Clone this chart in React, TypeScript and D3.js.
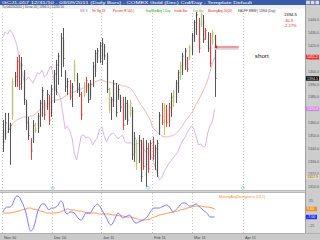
import React from "react";
import * as d3 from "d3";

// ---- data ----
const barHigh = [1362.2,1367.7,1367.7,1359.9,1394.9,1399.6,1411.2,1412.8,1411.2,1401.1,
 1377.8,1364.6,1348.2,1362.2,1359.9,1367.7,1377.8,1387.9,1377.8,1385.6,
 1381.7,1389.5,1401.1,1408.9,1414.4,1429.9,1433.8,1401.1,1394.9,1393.3,
 1391.0,1408.9,1398.8,1391.0,1384.0,1391.8,1395.7,1391.0,1393.3,1407.4,
 1416.7,1418.2,1422.9,1426.0,1421.4,1414.4,1387.1,1380.1,1393.3,1391.0,
 1389.5,1381.7,1380.1,1380.1,1377.8,1377.8,1372.3,1352.9,1346.7,1350.5,
 1346.7,1348.2,1346.7,1344.3,1346.7,1349.0,1342.8,1346.7,1368.4,1375.4,
 1375.4,1373.9,1375.4,1383.2,1385.6,1393.3,1401.1,1407.4,1414.4,1418.2,
 1411.2,1420.6,1429.9,1440.0,1446.3,1441.6,1446.0,1443.9,1433.8,1430.7,
 1429.9,1432.3,1428.4];
const barLow = [1337.3,1346.7,1352.1,1327.2,1362.2,1387.9,1387.9,1385.6,1385.6,1373.9,
 1354.4,1346.7,1331.1,1344.3,1352.1,1352.1,1356.8,1364.6,1362.2,1370.0,
 1358.3,1364.6,1375.4,1381.7,1389.5,1395.7,1403.5,1384.0,1381.7,1377.8,
 1372.3,1391.8,1383.2,1380.1,1362.2,1380.1,1383.2,1375.4,1377.8,1387.9,
 1395.7,1406.6,1406.6,1405.0,1408.9,1383.2,1367.7,1362.2,1372.3,1364.6,
 1377.8,1368.4,1354.4,1362.2,1358.3,1364.6,1331.1,1329.5,1323.3,1328.7,
 1314.0,1323.3,1310.1,1321.0,1331.1,1331.1,1323.3,1317.9,1350.5,1358.3,
 1350.5,1356.8,1356.8,1364.6,1372.3,1375.4,1383.2,1393.3,1397.2,1401.1,
 1399.6,1408.9,1412.8,1422.9,1428.4,1414.4,1434.6,1422.1,1424.5,1415.1,
 1403.5,1420.6,1380.1];
const barOpen = [1355,1348,1360,1355,1365,1390,1395,1408,1390,1400,
 1376,1360,1346,1346,1356,1355,1365,1372,1376,1372,
 1380,1365,1385,1397,1404,1405,1425,1400,1388,1390,
 1380,1392,1397,1388,1382,1382,1385,1390,1380,1390,
 1400,1410,1410,1408,1420,1412,1385,1372,1376,1388,
 1380,1380,1376,1364,1374,1366,1370,1336,1344,1330,
 1344,1345,1326,1340,1332,1346,1336,1320,1352,1366,
 1360,1370,1360,1370,1376,1380,1386,1396,1400,1405,
 1410,1410,1415,1425,1432,1438,1436,1440,1426,1428,
 1420,1422,1428];
const barClose = [1345,1360,1355,1358,1392,1396,1408,1390,1405,1378,
 1360,1350,1338,1358,1354,1365,1375,1385,1366,1382,
 1362,1386,1398,1405,1412,1426,1410,1388,1392,1380,
 1388,1405,1386,1382,1366,1390,1393,1378,1390,1404,
 1414,1416,1420,1422,1412,1386,1370,1378,1390,1368,
 1386,1372,1358,1375,1362,1375,1335,1348,1328,1346,
 1318,1326,1340,1324,1344,1334,1340,1344,1366,1360,
 1372,1360,1372,1380,1384,1391,1399,1405,1412,1416,
 1402,1419,1428,1438,1444,1418,1444,1425,1432,1418,
 1406,1430,1394.5];
const barKind = ("kkkkokrrkk" + "kkrkokkkrk" + "rkkkkkkkkr" + "kokkrorkkk" + "kkkkkkokkk" +
 "kkrkkokkok" + "krkrkrkkkr" + "orrkokkokk" + "rokkkrokrk" + "rok").split("");

const compareLine = [1426.8,1430.7,1429.1,1432.3,1429.9,1426.0,1420.6,1410.5,1401.1,1393.3,
 1393.3,1395.7,1393.3,1391.0,1394.9,1398.8,1398.0,1401.1,1395.7,1397.2,
 1401.9,1404.2,1394.9,1384.8,1383.2,1379.3,1367.7,1355.2,1357.5,1353.7,
 1348.2,1336.5,1331.1,1340.4,1349.8,1350.5,1348.2,1349.0,1347.4,1342.8,
 1345.9,1348.2,1355.2,1356.8,1349.8,1345.1,1349.0,1351.3,1352.1,1349.8,
 1347.4,1349.0,1350.5,1345.1,1344.3,1344.3,1344.3,1342.8,1343.5,1344.3,
 1342.0,1339.6,1337.3,1336.5,1335.0,1332.6,1326.4,1321.0,1315.5,1317.1,
 1321.7,1324.9,1328.0,1330.3,1332.6,1335.0,1337.3,1342.0,1345.9,1348.2,
 1352.1,1355.2,1357.5,1355.2,1349.0,1342.8,1343.5,1341.2,1342.0,1352.1,
 1357.5,1360.7,1370.8];
const movingAvg = [1349.0,1350.5,1352.9,1356.0,1359.1,1360.7,1362.2,1363.0,1363.8,1364.6,
 1364.6,1364.6,1365.3,1365.3,1366.9,1368.4,1370.0,1370.8,1372.3,1373.9,
 1374.7,1376.2,1377.0,1377.8,1377.8,1378.6,1379.3,1380.9,1381.7,1383.2,
 1384.0,1384.0,1384.8,1385.6,1386.3,1387.1,1387.9,1388.7,1389.5,1390.2,
 1391.8,1392.6,1393.3,1393.3,1392.6,1391.8,1391.8,1391.0,1391.0,1390.2,
 1390.2,1389.5,1388.7,1388.7,1387.9,1387.1,1385.6,1383.2,1380.1,1377.0,
 1373.9,1371.6,1368.4,1365.3,1362.2,1356.8,1354.4,1352.9,1351.3,1349.8,
 1349.0,1349.0,1349.0,1349.8,1349.8,1351.3,1352.9,1355.2,1357.5,1360.7,
 1363.0,1365.3,1367.7,1370.8,1374.7,1377.8,1380.9,1384.8,1388.7,1393.3,
 1399.6,1405.8,1411.2];
const macdFast = [3,11,13,13,17,29,35,33,25,15,
 1,-21,-35,-31,-17,3,13,19,19,13,
 7,11,11,13,17,25,21,3,-1,3,
 3,1,-5,-11,-13,-7,1,1,1,9,
 15,19,15,7,-1,-9,-19,-23,-17,-7,
 1,-3,-9,-7,-5,-3,-9,-17,-19,-17,
 -15,-13,-9,-5,3,9,11,11,11,13,
 15,17,15,9,3,7,11,17,21,21,
 19,15,15,17,19,15,11,7,3,-1,
 -7,-7,-7];
const macdSlow = [1,1,1,1,2,3,4,5,7,8,
 9,11,11,9,8,7,5,4,3,1,
 1,1,1,1,2,3,5,7,9,8,
 7,7,6,5,5,3,2,1,1,1,
 1,0,-1,-1,-1,-1,-1,-2,-3,-3,
 -4,-5,-5,-6,-7,-7,-8,-9,-10,-12,
 -13,-13,-13,-12,-11,-8,-7,-5,-3,-2,
 -1,0,1,2,3,4,5,7,8,9,
 11,12,13,14,15,15,15,14,13,13,
 12,11,9];

const monthLabels = ["Nov 10", "Dec 10", "Jan 11", "Feb 11", "Mar 11", "Apr 11"];
const monthAt = [-0.4, 21.3, 42.6, 64.8, 82.2, 104.3];
const cycleMarks = [21.7, 63.0, 104.3];
const priceTicks = [1440,1430,1420,1410,1400,1390,1380,1370,1360,1350,1340,1330,1320,1310];
const indTicks = [25, -25];
const priceTags = [
  { v: 1411.2, bg: "#ff2a2a", fg: "#ffffff" },
  { v: 1394.5, bg: "#000000", fg: "#ffffff" },
  { v: 1370.8, bg: "#d77ee6", fg: "#ffffff" },
  { v: 1317.9, bg: "#e9dfb8", fg: "#555555" },
];
const indTags = [
  { v: 9, bg: "#ff8a1e", fg: "#ffffff", t: "9.00" },
  { v: -7, bg: "#1f2cff", fg: "#ffffff", t: "-7.00" },
];
const legendItems = [
  { t: "VIX 9", c: "#b040c0", x: 80 },
  { t: "Str Sig 18", c: "#e02020", x: 92 },
  { t: "Percent R 14(L)", c: "#e02020", x: 113 },
  { t: "ExpMovAvg 5 Day", c: "#20a020", x: 146 },
  { t: "Inside Bar", c: "#e02020", x: 174 },
  { t: "Key Bar", c: "#a0a020", x: 193 },
  { t: "MovingAvg 20(20)", c: "#e02020", x: 208 },
  { t: "KAUFF MBIM | 12864 (Day)", c: "#333333", x: 238 },
];
const arrowNote = { price: 1419.0, from: 102.5, to: 91.8 };
const shortNote = { price: 1410.5, at: 109.5, text: "short" };

const FONT = "Liberation Sans, Arial, sans-serif";

export default function App() {
  const x = d3.scaleLinear().domain([0, 92]).range([3, 214.6]);
  const y = d3.scaleLinear().domain([1310, 1440]).range([187, 20]);
  const yi = d3.scaleLinear().domain([-25, 25]).range([226, 201]);
  const idx = d3.range(barHigh.length);

  const lineMain = d3.line<number>().x((_, i) => x(i)).y((d) => y(d));
  const lineInd = d3.line<number>().x((_, i) => x(i)).y((d) => yi(d)).curve(d3.curveMonotoneX);
  const kindColor: Record<string, string> = { k: "#444444", r: "#e42a2a", o: "#bcc452" };

  return (
    <div style={{ position: "absolute", left: 0, top: 0 }}>
      <svg width={320} height={240} style={{ display: "block" }} fontFamily={FONT}>
        <rect x={0} y={0} width={320} height={240} fill="#ffffff" />
        {/* title bar */}
        <rect x={0} y={0} width={320} height={5} fill="#3a5ca8" />
        <text x={2} y={4} fontSize={3.8} fill="#ffffff" textLength={250} lengthAdjust="spacingAndGlyphs">GCJ1-057  12/31/10 - 03/09/2011 (Daily Bars) - COMEX Gold (Dec) Crd/Day - Template Default</text>
        {[0, 1, 2].map((k) => (
          <rect key={k} x={306 + k * 4.6} y={0.6} width={4} height={3.8} fill="#d8dce8" stroke="#7080a8" strokeWidth={0.4} />
        ))}
        <rect x={0} y={5} width={305} height={3.8} fill="#f0f0f0" />
        <text x={2} y={8} fontSize={3.2} fill="#333" textLength={62} lengthAdjust="spacingAndGlyphs">Tu 04/25/2011 | 10:xx:13 | 1394.5 | 12/31/10</text>
        {legendItems.map((l) => (
          <text key={l.t} x={l.x} y={11.6} fontSize={3} fill={l.c}>{l.t}</text>
        ))}

        {/* gridlines */}
        {monthAt.map((m, i) => (
          <g key={i}>
            <line x1={Math.round(x(m)) + 0.5} x2={Math.round(x(m)) + 0.5} y1={13} y2={190} stroke="#c4c4c4" strokeDasharray="1,2" />
            <line x1={Math.round(x(m)) + 0.5} x2={Math.round(x(m)) + 0.5} y1={193} y2={233} stroke="#c4c4c4" strokeDasharray="1,2" />
          </g>
        ))}

        {/* comparison line */}
        <path d={lineMain(compareLine) || ""} fill="none" stroke="#cfa4de" strokeWidth={0.8} />
        {/* moving average */}
        <path d={lineMain(movingAvg) || ""} fill="none" stroke="#f2a4a4" strokeWidth={0.8} />

        {/* bars */}
        {idx.map((i) => {
          const cx = Math.round(x(i)) + 0.5;
          const top = y(Math.max(barOpen[i], barClose[i]));
          const bot = y(Math.min(barOpen[i], barClose[i]));
          return (
            <g key={i}>
              <rect x={cx - 0.8} y={top} width={1.8} height={Math.max(0.5, bot - top)} fill="#dadada" />
              <line x1={cx} x2={cx} y1={y(barHigh[i])} y2={y(barLow[i])} stroke={kindColor[barKind[i]]} strokeWidth={0.9} />
              <line x1={cx} x2={cx + 1.2} y1={y(barClose[i])} y2={y(barClose[i])} stroke={kindColor[barKind[i]]} strokeWidth={0.7} />
            </g>
          );
        })}

        {/* annotation arrow */}
        <rect x={x(arrowNote.to)} y={y(arrowNote.price) + 0.8} width={x(arrowNote.from) - x(arrowNote.to)} height={2} fill="#d6d6d6" />
        <line x1={x(arrowNote.from)} x2={x(arrowNote.to) + 2} y1={y(arrowNote.price)} y2={y(arrowNote.price)} stroke="#e02020" strokeWidth={0.9} />
        <path d={`M${x(arrowNote.to)},${y(arrowNote.price)} l3,-1.8 l0,3.6 z`} fill="#e02020" />
        <text x={x(shortNote.at)} y={y(shortNote.price)} fontSize={6.2} fill="#111111">{shortNote.text}</text>

        {/* cycle markers */}
        {cycleMarks.map((c, i) => (
          <path key={i} d={`M${x(c)},186 l1.6,1.8 l-1.6,1.8 l-1.6,-1.8 z`} fill="none" stroke="#40c0c8" strokeWidth={0.6} />
        ))}

        {/* top-right readout */}
        <text x={284} y={16} fontSize={4.2} fill="#000">1394.5</text>
        <text x={284} y={21.5} fontSize={4} fill="#e02020">-30.9</text>
        <text x={284} y={27} fontSize={4} fill="#e02020">-2.17%</text>

        {/* panel separator */}
        <rect x={0} y={190} width={305} height={3} fill="#d4d4d4" />
        <line x1={0} x2={305} y1={190.5} y2={190.5} stroke="#a8a8a8" strokeWidth={0.6} />
        <line x1={0} x2={305} y1={192.5} y2={192.5} stroke="#a8a8a8" strokeWidth={0.6} />

        {/* indicator */}
        <text x={219} y={197.5} fontSize={3.6} fill="#ff8a1e">MovingAvgDivergence (12,1)</text>
        <path d={lineInd(macdSlow) || ""} fill="none" stroke="#ff9a50" strokeWidth={1} />
        <path d={lineInd(macdFast) || ""} fill="none" stroke="#6a6cff" strokeWidth={0.9} />

        {/* right axis */}
        <rect x={305} y={5} width={15} height={235} fill="#cdcdcd" />
        <line x1={305.5} x2={305.5} y1={5} y2={240} stroke="#a0a0a0" />
        {priceTicks.map((t) => (
          <text key={t} x={308} y={y(t) + 1.3} fontSize={3.6} fill="#555">{t.toFixed(1)}</text>
        ))}
        {priceTags.map((p) => (
          <g key={p.v}>
            <rect x={306} y={y(p.v) - 2.2} width={13} height={4.4} fill={p.bg} />
            <text x={307} y={y(p.v) + 1.3} fontSize={3.6} fill={p.fg}>{p.v.toFixed(1)}</text>
          </g>
        ))}
        {indTicks.map((t) => (
          <text key={t} x={309} y={yi(t) + 1.3} fontSize={3.6} fill="#555">{t}</text>
        ))}
        {indTags.map((p) => (
          <g key={p.t}>
            <rect x={306} y={yi(p.v) - 2.2} width={11} height={4.4} fill={p.bg} />
            <text x={307} y={yi(p.v) + 1.3} fontSize={3.6} fill={p.fg}>{p.t}</text>
          </g>
        ))}

        {/* date axis */}
        <rect x={0} y={233} width={320} height={7} fill="#cacaca" />
        <line x1={0} x2={320} y1={233.5} y2={233.5} stroke="#a0a0a0" strokeWidth={0.6} />
        {monthLabels.map((m, i) => (
          <text key={m} x={x(monthAt[i]) + 2} y={238.6} fontSize={3.8} fill="#444">{m}</text>
        ))}
      </svg>
    </div>
  );
}
